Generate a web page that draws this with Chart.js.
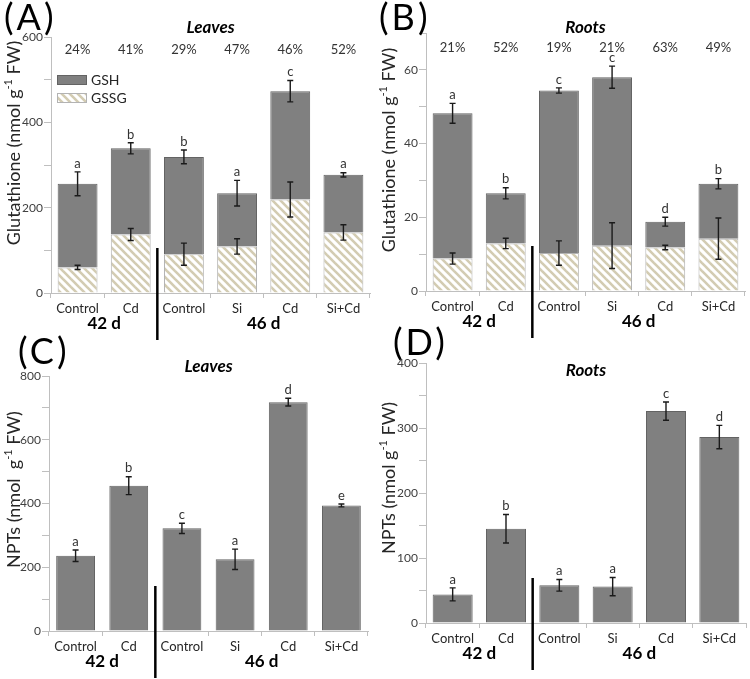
<!DOCTYPE html>
<html><head><meta charset="utf-8">
<script src="https://cdn.jsdelivr.net/npm/chart.js@4.4.0/dist/chart.umd.min.js"></script>
<style>
html,body{margin:0;padding:0;background:#fff;}
#wrap{position:relative;width:750px;height:679px;overflow:hidden;background:#fff;}
canvas{position:absolute;}
</style></head><body>
<div id="wrap">
<canvas id="cA" width="375" height="345" style="left:0;top:0"></canvas>
<canvas id="cB" width="375" height="345" style="left:375px;top:0"></canvas>
<canvas id="cC" width="375" height="349" style="left:0;top:330px"></canvas>
<canvas id="cD" width="375" height="359" style="left:375px;top:320px"></canvas>
</div>
<script>
// ---------- data ----------
const categories = ['Control','Cd','Control','Si','Cd','Si+Cd'];
const groupLabels = ['42 d','46 d'];

// (A) Glutathione, leaves
const gssgLeaves = [60, 137, 91, 109, 219, 142];
const gshLeaves = [196, 202, 228, 125, 254, 135];
const gssgErrLeaves = [5, 14, 26, 18, 41, 18];
const totalErrLeaves = [28, 13, 16, 30, 25, 5];
const lettersGluLeaves = ['a','b','b','a','c','a'];
const pctLeaves = ['24%','41%','29%','47%','46%','52%'];

// (B) Glutathione, roots
const gssgRoots = [8.8, 12.9, 10.3, 12.3, 11.8, 14.2];
const gshRoots = [39.4, 13.6, 44.1, 45.7, 7.0, 14.9];
const gssgErrRoots = [1.5, 1.4, 3.3, 6.2, 0.6, 5.6];
const totalErrRoots = [2.7, 1.5, 0.7, 3.0, 1.2, 1.4];
const lettersGluRoots = ['a','b','c','c','d','b'];
const pctRoots = ['21%','52%','19%','21%','63%','49%'];

// (C) NPTs, leaves
const nptLeaves = [236, 456, 322, 225, 718, 394];
const nptErrLeaves = [18, 28, 16, 32, 12, 4.5];
const lettersNptLeaves = ['a','b','c','a','d','e'];

// (D) NPTs, roots
const nptRoots = [44, 145, 58, 56, 326, 286];
const nptErrRoots = [10, 22, 9, 14, 14, 18];
const lettersNptRoots = ['a','b','a','a','c','d'];

// ---------- styles ----------
const FONT = 'Lato, "Open Sans", sans-serif';
const GREY = '#808080';
const GREY_BORDER = '#636363';

function hatch() {
  const s = 8;
  const c = document.createElement('canvas');
  c.width = s; c.height = s;
  const g = c.getContext('2d');
  g.fillStyle = '#ffffff'; g.fillRect(0,0,s,s);
  g.strokeStyle = '#d3ccb2'; g.lineWidth = 2.6; g.lineCap = 'square';
  for (let k = -1; k <= 1; k++) {
    g.beginPath(); g.moveTo(k*s, 0); g.lineTo(k*s + s, s); g.stroke();
  }
  return g.createPattern(c, 'repeat');
}
const HATCH = hatch();

function drawYTitle(ctx, cx, cy, pre, sup, post) {
  ctx.save();
  ctx.translate(cx, cy);
  ctx.rotate(-Math.PI/2);
  const f1 = '18px ' + FONT, f2 = '11px ' + FONT;
  ctx.font = f1; const w1 = ctx.measureText(pre).width; const w3 = ctx.measureText(post).width;
  ctx.font = f2; const w2 = ctx.measureText(sup).width;
  let x0 = -(w1 + w2 + w3)/2;
  ctx.fillStyle = '#262626';
  ctx.textBaseline = 'middle'; ctx.textAlign = 'left';
  ctx.font = f1; ctx.fillText(pre, x0, 0);
  ctx.font = f2; ctx.fillText(sup, x0 + w1, -6);
  ctx.font = f1; ctx.fillText(post, x0 + w1 + w2, 0);
  ctx.restore();
}

function deco(o) {
  return {
    id: 'deco',
    afterDatasetsDraw(chart) {
      const {ctx, chartArea: ca, scales: {x, y}} = chart;
      const ds = chart.data.datasets;
      ctx.save();
      ctx.strokeStyle = '#1a1a1a'; ctx.lineWidth = 1.4;
      const bar = (xc, v, e) => {
        const t = y.getPixelForValue(v + e), b = y.getPixelForValue(v - e);
        ctx.beginPath();
        ctx.moveTo(xc, t); ctx.lineTo(xc, b);
        ctx.moveTo(xc-3, t); ctx.lineTo(xc+3, t);
        ctx.moveTo(xc-3, b); ctx.lineTo(xc+3, b);
        ctx.stroke();
      };
      for (let i = 0; i < categories.length; i++) {
        const xc = x.getPixelForValue(i);
        const total = ds.reduce((s, d) => s + d.data[i], 0);
        if (o.segErr) bar(xc, ds[0].data[i], o.segErr[i]);
        bar(xc, total, o.topErr[i]);
        ctx.fillStyle = '#333'; ctx.font = '13px ' + FONT;
        ctx.textAlign = 'center'; ctx.textBaseline = 'bottom';
        ctx.fillText(o.letters[i], xc, y.getPixelForValue(total + o.topErr[i]) - 2);
        if (o.pct) {
          ctx.textBaseline = 'middle';
          ctx.fillText(o.pct[i], xc, ca.top + o.pctDy);
        }
      }
      ctx.restore();
    },
    afterDraw(chart) {
      const {ctx, chartArea: ca, scales: {x, y}} = chart;
      ctx.save();
      // panel label
      ctx.fillStyle = '#000'; ctx.font = '36px ' + FONT;
      ctx.letterSpacing = '3px';
      ctx.textAlign = 'left'; ctx.textBaseline = 'top';
      ctx.fillText(o.panel, o.panelX, o.panelY);
      ctx.letterSpacing = '0px';
      // panel title
      ctx.font = 'italic bold 17px ' + FONT; ctx.textAlign = 'center'; ctx.textBaseline = 'middle';
      ctx.fillText(o.title, (ca.left + ca.right)/2, ca.top + o.titleDy);
      // y title
      drawYTitle(ctx, 14, (ca.top + ca.bottom)/2 + o.yTitleDy, o.yPre, '-1', ' FW)');
      // separator
      const sx = (x.getPixelForValue(1) + x.getPixelForValue(2))/2;
      ctx.strokeStyle = '#000'; ctx.lineWidth = 2.5;
      ctx.beginPath(); ctx.moveTo(sx, ca.bottom - 45); ctx.lineTo(sx, ca.bottom + 47); ctx.stroke();
      // group labels
      ctx.font = 'bold 17px ' + FONT; ctx.fillStyle = '#000';
      ctx.fillText(groupLabels[0], (x.getPixelForValue(0) + x.getPixelForValue(1))/2, ca.bottom + 31);
      ctx.fillText(groupLabels[1], (x.getPixelForValue(3) + x.getPixelForValue(4))/2, ca.bottom + 31);
      // legend
      if (o.legend) {
        const ds = chart.data.datasets;
        const items = [ds[1], ds[0]];
        items.forEach((d, k) => {
          const lx = ca.left + 6, ly = ca.top + 38 + k*18;
          ctx.fillStyle = d.backgroundColor; ctx.fillRect(lx, ly, 30, 10);
          ctx.strokeStyle = d.borderColor; ctx.lineWidth = 1; ctx.strokeRect(lx+0.5, ly+0.5, 29, 9);
          ctx.fillStyle = '#262626'; ctx.font = '14px ' + FONT; ctx.textAlign = 'left'; ctx.textBaseline = 'middle';
          ctx.fillText(d.label, lx + 34, ly + 5);
        });
      }
      ctx.restore();
    }
  };
}

function makeChart(id, datasets, o) {
  const cv = document.getElementById(id);
  const W = cv.width, H = cv.height;
  return new Chart(cv, {
    type: 'bar',
    data: { labels: categories, datasets },
    options: {
      responsive: false, animation: false, devicePixelRatio: 1,
      layout: { padding: { top: o.top, right: W - o.right, bottom: 0, left: 0 } },
      plugins: { legend: { display: false }, tooltip: { enabled: false } },
      datasets: { bar: { categoryPercentage: 1, barPercentage: o.barPct } },
      scales: {
        x: {
          stacked: true,
          afterFit: s => { s.height = H - o.bottom; },
          grid: { drawOnChartArea: false, tickLength: 5, color: '#bfbfbf', offset: true },
          border: { color: '#bfbfbf' },
          ticks: { font: { size: 13, family: FONT }, color: '#262626', padding: 3, maxRotation: 0, autoSkip: false }
        },
        y: {
          stacked: true, min: 0, max: o.max,
          afterFit: s => { s.width = o.left; },
          grid: { drawOnChartArea: false, tickLength: 7, color: '#bfbfbf' },
          border: { color: '#bfbfbf' },
          ticks: { stepSize: o.step, font: { size: 12, family: FONT }, color: '#404040', padding: 1,
                   callback: v => (v % o.labelEvery === 0 ? v : '') }
        }
      }
    },
    plugins: [deco(o)]
  });
}

makeChart('cA', [
  { label: 'GSSG', data: gssgLeaves, backgroundColor: HATCH, borderColor: '#b3b3b3', borderWidth: 1 },
  { label: 'GSH', data: gshLeaves, backgroundColor: GREY, borderColor: GREY_BORDER, borderWidth: 1 }
], { top: 37, right: 370, bottom: 293, left: 51, max: 600, step: 100, labelEvery: 200, barPct: 0.75,
     segErr: gssgErrLeaves, topErr: totalErrLeaves, letters: lettersGluLeaves, pct: pctLeaves, pctDy: 13,
     panel: '(A)', panelX: 4, panelY: 0, title: 'Leaves', titleDy: -9, yPre: 'Glutathione (nmol g', yTitleDy: -22,
     legend: true });

makeChart('cB', [
  { label: 'GSSG', data: gssgRoots, backgroundColor: HATCH, borderColor: '#b3b3b3', borderWidth: 1 },
  { label: 'GSH', data: gshRoots, backgroundColor: GREY, borderColor: GREY_BORDER, borderWidth: 1 }
], { top: 33, right: 370, bottom: 291, left: 51, max: 70, step: 10, labelEvery: 20, barPct: 0.75,
     segErr: gssgErrRoots, topErr: totalErrRoots, letters: lettersGluRoots, pct: pctRoots, pctDy: 15,
     panel: '(B)', panelX: 4, panelY: 0, title: 'Roots', titleDy: -5, yPre: 'Glutathione (nmol g', yTitleDy: -12,
     legend: false });

makeChart('cC', [
  { label: 'NPTs', data: nptLeaves, backgroundColor: GREY, borderColor: GREY_BORDER, borderWidth: 1 }
], { top: 46, right: 368, bottom: 301, left: 49, max: 800, step: 100, labelEvery: 200, barPct: 0.73,
     topErr: nptErrLeaves, letters: lettersNptLeaves,
     panel: '(C)', panelX: 18, panelY: 4, title: 'Leaves', titleDy: -9, yPre: 'NPTs (nmol  g', yTitleDy: -14,
     legend: false });

makeChart('cD', [
  { label: 'NPTs', data: nptRoots, backgroundColor: GREY, borderColor: GREY_BORDER, borderWidth: 1 }
], { top: 43, right: 371, bottom: 303, left: 51, max: 400, step: 50, labelEvery: 100, barPct: 0.75,
     topErr: nptErrRoots, letters: lettersNptRoots,
     panel: '(D)', panelX: 18, panelY: 5, title: 'Roots', titleDy: 8, yPre: 'NPTs (nmol g', yTitleDy: -15,
     legend: false });
</script>
</body></html>
